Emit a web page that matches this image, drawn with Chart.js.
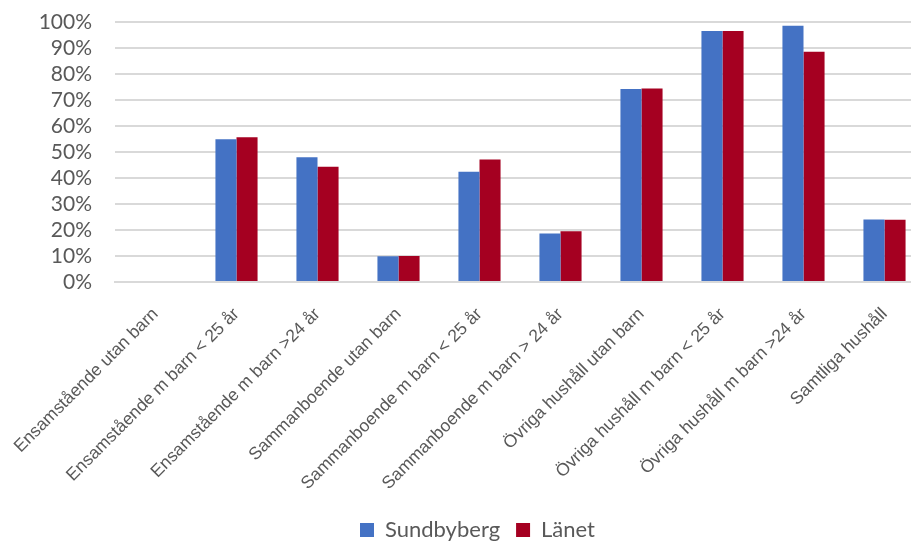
<!DOCTYPE html>
<html>
<head>
<meta charset="utf-8">
<script src="https://cdn.jsdelivr.net/npm/chart.js@4"></script>
<style>
  html, body { margin: 0; padding: 0; overflow: hidden; background: #fff; }
  #wrap { width: 930px; height: 542px; }
</style>
</head>
<body>
<div id="wrap"><canvas id="chart"></canvas></div>
<script>
const categories = [
  "Ensamstående utan barn",
  "Ensamstående m barn < 25 år",
  "Ensamstående m barn >24 år",
  "Sammanboende utan barn",
  "Sammanboende m barn < 25 år",
  "Sammanboende m barn > 24 år",
  "Övriga hushåll utan barn",
  "Övriga hushåll m barn < 25 år",
  "Övriga hushåll m barn >24 år",
  "Samtliga hushåll"
];
const sundbyberg = [0, 54.9, 48.0, 9.9, 42.4, 18.7, 74.2, 96.5, 98.6, 24.0];
const lanet      = [0, 55.7, 44.3, 10.0, 47.1, 19.5, 74.4, 96.5, 88.6, 23.9];
const yTicks = [0, 10, 20, 30, 40, 50, 60, 70, 80, 90, 100];

new Chart(document.getElementById("chart"), {
  type: "bar",
  data: {
    labels: categories,
    datasets: [
      { label: "Sundbyberg", data: sundbyberg, backgroundColor: "#4472C4" },
      { label: "Länet", data: lanet, backgroundColor: "#A50021" }
    ]
  },
  options: {
    responsive: true,
    maintainAspectRatio: false,
    animation: false,
    datasets: { bar: { categoryPercentage: 0.52, barPercentage: 1 } },
    layout: { padding: { left: 30, right: 5, top: 22, bottom: -9 } },
    scales: {
      x: {
        afterFit: s => { s.height = 221; s.paddingLeft = 0; s.paddingRight = 0; },
        grid: { display: false },
        border: { color: "#d9d9d9", width: 2 },
        ticks: {
          autoSkip: false,
          minRotation: 45,
          maxRotation: 45,
          color: "#595959",
          padding: 14,
          font: { family: "Liberation Sans", size: 17.5 }
        }
      },
      y: {
        min: 0,
        max: 100,
        afterFit: s => { s.width = 85; s.paddingTop = 0; s.paddingBottom = 0; },
        afterBuildTicks: s => { s.ticks = yTicks.map(v => ({ value: v })); },
        grid: { color: "#d9d9d9", lineWidth: 2, drawTicks: false },
        border: { display: false },
        ticks: {
          autoSkip: false,
          color: "#595959",
          padding: 23,
          font: { family: "Lato", size: 21 },
          callback: v => v + "%"
        }
      }
    },
    plugins: {
      tooltip: { enabled: false },
      legend: {
        position: "bottom",
        labels: {
          boxWidth: 14,
          boxHeight: 14,
          padding: 16,
          color: "#595959",
          font: { family: "Lato", size: 22 }
        }
      }
    }
  }
});
</script>
</body>
</html>
